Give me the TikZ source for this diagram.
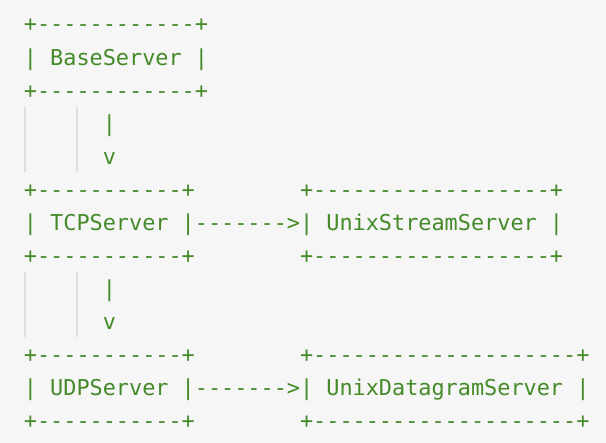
\documentclass[tikz,border=0pt]{standalone}
\usepackage{fontspec}
\setmonofont{DejaVu Sans Mono}
\definecolor{codegreen}{RGB}{68,138,40}
\definecolor{bggray}{RGB}{246,246,246}
\definecolor{quotebar}{RGB}{222,222,222}
\begin{document}
\begin{tikzpicture}[x=1pt,y=-1pt,
  ascii/.style={anchor=base west,inner sep=0pt,outer sep=0pt,text=codegreen,
    font=\ttfamily\fontsize{21.85}{33}\selectfont},
  qbar/.style={draw=quotebar,line width=2.5pt}]
\fill[bggray] (0,0) rectangle (606,443);
\useasboundingbox (0,0) rectangle (606,443);
\def\cw{13.15}
\def\xo{23.9}
\newcommand{\rowy}[1]{32+33.08*#1}
% quote bars
\coordinate (q1t) at (25.2,107);
\coordinate (q1b) at (25.2,172);
\coordinate (q2t) at (77,107);
\coordinate (q2b) at (77,172);
\coordinate (q3t) at (25.2,272);
\coordinate (q3b) at (25.2,337);
\coordinate (q4t) at (77,272);
\coordinate (q4b) at (77,337);
\draw[qbar] (q1t) -- (q1b);
\draw[qbar] (q2t) -- (q2b);
\draw[qbar] (q3t) -- (q3b);
\draw[qbar] (q4t) -- (q4b);
% BaseServer
\node[ascii] (b0) at (\xo,{\rowy{0}}) {+------------+};
\node[ascii] (b1) at (\xo,{\rowy{1}}) {| BaseServer |};
\node[ascii] (b2) at (\xo,{\rowy{2}}) {+------------+};
\node[ascii] (a1) at ({\xo+6*\cw},{\rowy{3}}) {|};
\node[ascii] (a2) at ({\xo+6*\cw},{\rowy{4}}) {v};
% TCPServer / UnixStreamServer
\node[ascii] (t0) at (\xo,{\rowy{5}}) {+-----------+};
\node[ascii] (t1) at (\xo,{\rowy{6}}) {| TCPServer |};
\node[ascii] (t2) at (\xo,{\rowy{7}}) {+-----------+};
\node[ascii] (ta) at ({\xo+13*\cw},{\rowy{6}}) {------->};
\node[ascii] (s0) at ({\xo+21*\cw},{\rowy{5}}) {+------------------+};
\node[ascii] (s1) at ({\xo+21*\cw},{\rowy{6}}) {| UnixStreamServer |};
\node[ascii] (s2) at ({\xo+21*\cw},{\rowy{7}}) {+------------------+};
\node[ascii] (a3) at ({\xo+6*\cw},{\rowy{8}}) {|};
\node[ascii] (a4) at ({\xo+6*\cw},{\rowy{9}}) {v};
% UDPServer / UnixDatagramServer
\node[ascii] (u0) at (\xo,{\rowy{10}}) {+-----------+};
\node[ascii] (u1) at (\xo,{\rowy{11}}) {| UDPServer |};
\node[ascii] (u2) at (\xo,{\rowy{12}}) {+-----------+};
\node[ascii] (ua) at ({\xo+13*\cw},{\rowy{11}}) {------->};
\node[ascii] (d0) at ({\xo+21*\cw},{\rowy{10}}) {+--------------------+};
\node[ascii] (d1) at ({\xo+21*\cw},{\rowy{11}}) {| UnixDatagramServer |};
\node[ascii] (d2) at ({\xo+21*\cw},{\rowy{12}}) {+--------------------+};
\end{tikzpicture}
\end{document}
